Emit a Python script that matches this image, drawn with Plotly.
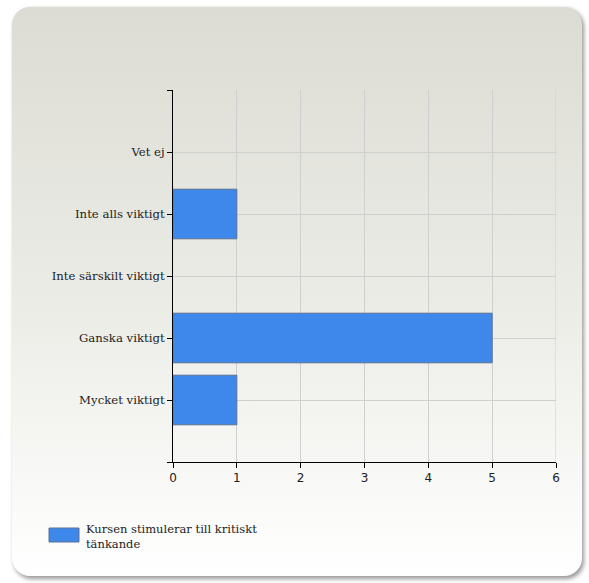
import base64
import plotly.graph_objects as go

categories = ["Mycket viktigt", "Ganska viktigt", "Inte särskilt viktigt", "Inte alls viktigt", "Vet ej"]
values = [1, 5, 0, 1, 0]
series_name = "Kursen stimulerar till kritiskt tänkande"
x_ticks = [0, 1, 2, 3, 4, 5, 6]

W, H = 589, 583
L, R, T, B = 173, 33, 90, 121
pw, ph = W - L - R, H - T - B

svg = f"""<svg xmlns='http://www.w3.org/2000/svg' width='{W}' height='{H}' viewBox='0 0 {W} {H}' preserveAspectRatio='none'>
<defs><linearGradient id='g' x1='0' y1='0' x2='0' y2='1'>
<stop offset='0' stop-color='#DCDCD4'/><stop offset='0.55' stop-color='#EDEDE8'/><stop offset='1' stop-color='#FFFFFF'/></linearGradient>
<filter id='s' x='-5%' y='-5%' width='110%' height='110%'><feGaussianBlur stdDeviation='2'/></filter></defs>
<rect x='14' y='9' width='570' height='570' rx='18' fill='#9a9a9a' filter='url(#s)'/>
<rect x='12' y='7' width='570' height='569' rx='18' fill='url(#g)'/>
</svg>"""
src = "data:image/svg+xml;base64," + base64.b64encode(svg.encode()).decode()

ypos = list(range(len(categories)))

fig = go.Figure()
fig.add_trace(go.Bar(
    x=values, y=ypos, orientation="h", width=0.8, name=series_name,
    marker=dict(color="#3F88EB",
                line=dict(color="#5B7290", width=[1 if v else 0 for v in values])),
    showlegend=False, hoverinfo="skip",
))

fig.update_layout(
    width=W, height=H,
    margin=dict(l=L, r=R, t=T, b=B, pad=0),
    paper_bgcolor="white", plot_bgcolor="rgba(0,0,0,0)",
    xaxis=dict(range=[0, 6], tickvals=x_ticks, showgrid=True, gridcolor="#CFCFCF", gridwidth=1,
               showline=True, linecolor="black", linewidth=1, ticks="outside", ticklen=5,
               tickcolor="black", zeroline=False,
               tickfont=dict(family="DejaVu Sans", size=12, color="#222")),
    yaxis=dict(range=[-1, 5], tickvals=[-1] + ypos + [5], ticktext=[""] + categories + [""],
               showgrid=True, gridcolor="#CFCFCF", gridwidth=1,
               showline=True, linecolor="black", linewidth=1, ticks="outside", ticklen=5,
               tickcolor="black", zeroline=False,
               tickfont=dict(family="DejaVu Serif", size=11.7, color="#222")),
    images=[dict(source=src, xref="paper", yref="paper", x=-L / pw, y=1 + T / ph,
                 sizex=W / pw, sizey=H / ph, xanchor="left", yanchor="top",
                 sizing="stretch", layer="below")],
)

# right border gridline of plot area
fig.add_shape(type="line", xref="x", yref="paper", x0=6, x1=6, y0=0, y1=1,
              line=dict(color="#CFCFCF", width=1), layer="below")

# legend (drawn manually to match swatch size)
def px_x(p):
    return (p - L) / pw

def px_y(p):
    return (H - B - p) / ph

fig.add_shape(type="rect", xref="paper", yref="paper",
              x0=px_x(49), x1=px_x(79), y0=px_y(542), y1=px_y(528),
              fillcolor="#3F88EB", line=dict(color="#5B7290", width=1))
words = series_name.split(" ")
legend_text = " ".join(words[:4]) + "<br>" + " ".join(words[4:])
fig.add_annotation(xref="paper", yref="paper", x=px_x(84), y=px_y(520),
                   xanchor="left", yanchor="top", align="left", showarrow=False,
                   text=legend_text,
                   font=dict(family="DejaVu Serif", size=11.5, color="#222"))

fig.write_html("out.html", config={"displayModeBar": False, "staticPlot": True},
               post_script="document.body.style.margin='0px';document.body.style.overflow='hidden';")
